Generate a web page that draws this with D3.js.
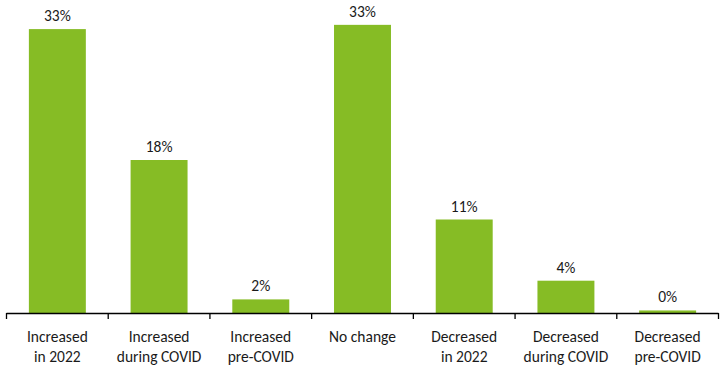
<!DOCTYPE html>
<html>
<head>
<meta charset="utf-8">
<script src="https://cdn.jsdelivr.net/npm/d3@7"></script>
<style>
  body { margin: 0; background: #fff; }
  svg { display: block; font-family: Carlito, Calibri, "Open Sans", sans-serif; }
</style>
</head>
<body>
<div id="chart"></div>
<script>
const categories = [
  ["Increased", "in 2022"],
  ["Increased", "during COVID"],
  ["Increased", "pre-COVID"],
  ["No change"],
  ["Decreased", "in 2022"],
  ["Decreased", "during COVID"],
  ["Decreased", "pre-COVID"]
];
const values = [33.4, 18, 1.6, 33.9, 11, 3.8, 0.3];
const valueLabels = ["33%", "18%", "2%", "33%", "11%", "4%", "0%"];

const width = 727, height = 367;
const margin = { top: 0, right: 8.5, bottom: 54, left: 6.5 };

const svg = d3.select("#chart").append("svg")
  .attr("width", width)
  .attr("height", height);

const x = d3.scaleBand()
  .domain(d3.range(categories.length))
  .range([margin.left, width - margin.right])
  .paddingInner(0.44)
  .paddingOuter(0.22);

const y = d3.scaleLinear()
  .domain([0, 36.8])
  .range([height - margin.bottom, height - margin.bottom - 36.8 * 8.5]);

const base = y(0);
const step = x.step();
const x0 = margin.left;

// bars
svg.selectAll("rect.bar")
  .data(values)
  .join("rect")
  .attr("class", "bar")
  .attr("x", (d, i) => x(i))
  .attr("y", d => y(d))
  .attr("width", x.bandwidth())
  .attr("height", d => base - y(d))
  .attr("fill", "#86bc25");

// value labels
svg.selectAll("text.val")
  .data(values)
  .join("text")
  .attr("class", "val")
  .attr("x", (d, i) => x(i) + x.bandwidth() / 2)
  .attr("y", d => y(d) - 8)
  .attr("text-anchor", "middle")
  .attr("font-size", "15.5px")
  .attr("fill", "#1a1a1a")
  .text((d, i) => valueLabels[i]);

// axis line and tick marks between categories
const axisG = svg.append("g");
axisG.append("line")
  .attr("x1", x0).attr("x2", x0 + step * categories.length)
  .attr("y1", base + 0.5).attr("y2", base + 0.5)
  .attr("stroke", "#000").attr("stroke-width", 1.3);

axisG.selectAll("line.tick")
  .data(d3.range(categories.length + 1))
  .join("line")
  .attr("class", "tick")
  .attr("x1", i => x0 + i * step).attr("x2", i => x0 + i * step)
  .attr("y1", base).attr("y2", base + 6)
  .attr("stroke", "#000").attr("stroke-width", 1.3);

// category labels
const cat = svg.selectAll("text.cat")
  .data(categories)
  .join("text")
  .attr("class", "cat")
  .attr("text-anchor", "middle")
  .attr("font-size", "15.5px")
  .attr("fill", "#1a1a1a");

cat.selectAll("tspan")
  .data((d, i) => d.map(t => ({ t, i })))
  .join("tspan")
  .attr("x", d => x(d.i) + x.bandwidth() / 2)
  .attr("y", (d, j) => base + 29 + j * 19.5)
  .text(d => d.t);
</script>
</body>
</html>
